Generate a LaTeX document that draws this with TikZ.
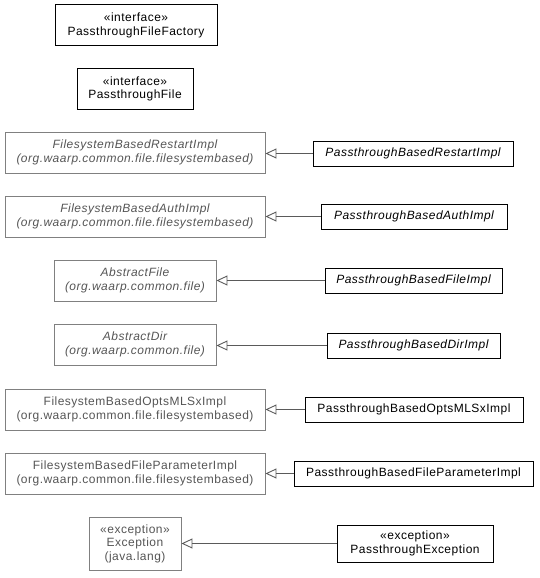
\documentclass[tikz,border=0pt]{standalone}
\usepackage{fontspec}
\setmainfont{Liberation Sans}[LetterSpace=4]
\usetikzlibrary{arrows.meta}
\definecolor{pgray}{HTML}{808080}
\definecolor{tgray}{HTML}{555555}
\definecolor{lgray}{HTML}{5A5A5A}
\begin{document}
\begin{tikzpicture}[x=1pt,y=-1pt,
  every node/.style={font=\fontsize{12}{13.5}\selectfont, align=center, inner sep=0pt},
  parent/.style={draw=pgray, text=tgray, line width=0.9pt},
  child/.style={draw=black, text=black, line width=1pt},
  iface/.style={draw=black, text=black, line width=1pt},
  inherit/.style={draw=lgray, line width=0.9pt, -{Triangle[open, length=11pt, width=10pt]}}]
\useasboundingbox (0,0) rectangle (539,578);
\node[iface, minimum width=162pt, minimum height=41pt] (pff) at (136,25.5) {«interface»\\PassthroughFileFactory};
\node[iface, minimum width=116pt, minimum height=40pt] (pf) at (135,89) {«interface»\\PassthroughFile};

\node[parent, minimum width=260pt, minimum height=41pt] (fr) at (135,152.5) {\itshape FilesystemBasedRestartImpl\\\itshape (org.waarp.common.file.filesystembased)};
\node[child, minimum width=200pt, minimum height=25pt] (cr) at (413,153.5) {\itshape PassthroughBasedRestartImpl};

\node[parent, minimum width=260pt, minimum height=41pt] (fa) at (135,216.5) {\itshape FilesystemBasedAuthImpl\\\itshape (org.waarp.common.file.filesystembased)};
\node[child, minimum width=186pt, minimum height=25pt] (ca) at (414,216.5) {\itshape PassthroughBasedAuthImpl};

\node[parent, minimum width=162pt, minimum height=41pt] (af) at (135,280.5) {\itshape AbstractFile\\\itshape (org.waarp.common.file)};
\node[child, minimum width=177pt, minimum height=25pt] (cf) at (413.5,280.5) {\itshape PassthroughBasedFileImpl};

\node[parent, minimum width=162pt, minimum height=41pt] (ad) at (135,344.5) {\itshape AbstractDir\\\itshape (org.waarp.common.file)};
\node[child, minimum width=173pt, minimum height=25pt] (cd) at (413.5,345.5) {\itshape PassthroughBasedDirImpl};

\node[parent, minimum width=260pt, minimum height=41pt] (fo) at (135,409.5) {FilesystemBasedOptsMLSxImpl\\(org.waarp.common.file.filesystembased)};
\node[child, minimum width=218pt, minimum height=25pt] (co) at (414,409.5) {PassthroughBasedOptsMLSxImpl};

\node[parent, minimum width=260pt, minimum height=41pt] (fp) at (135,473.5) {FilesystemBasedFileParameterImpl\\(org.waarp.common.file.filesystembased)};
\node[child, minimum width=239pt, minimum height=25pt] (cp) at (413.5,473.5) {PassthroughBasedFileParameterImpl};

\node[parent, minimum width=92pt, minimum height=53pt] (ex) at (135,543.5) {«exception»\\Exception\\(java.lang)};
\node[child, minimum width=156pt, minimum height=37pt] (ce) at (415,543.5) {«exception»\\PassthroughException};

\draw[inherit] (cr.west) -- (cr.west -| fr.east);
\draw[inherit] (ca) -- (fa);
\draw[inherit] (cf) -- (af);
\draw[inherit] (cd.west) -- (cd.west -| ad.east);
\draw[inherit] (co) -- (fo);
\draw[inherit] (cp) -- (fp);
\draw[inherit] (ce) -- (ex);
\end{tikzpicture}
\end{document}
